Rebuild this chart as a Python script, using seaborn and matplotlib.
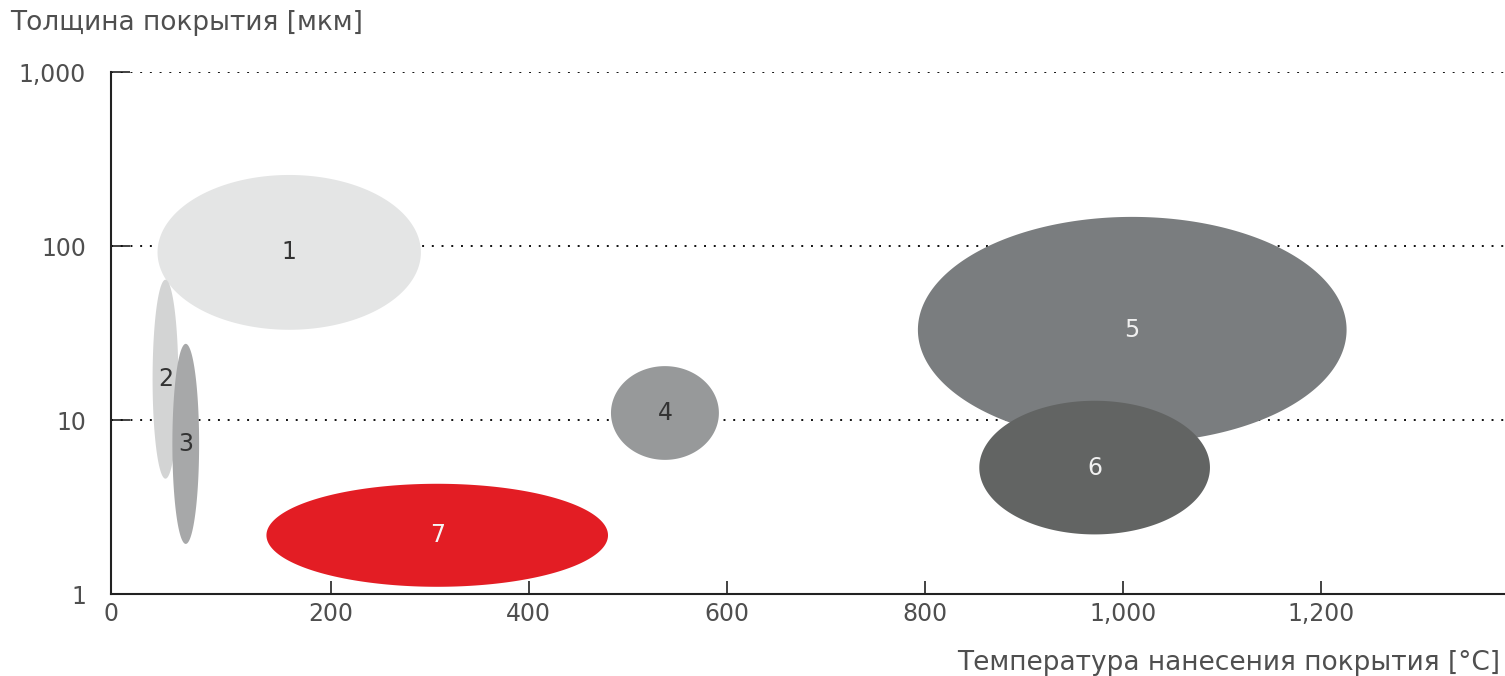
import numpy as np
import matplotlib
matplotlib.use("Agg")
import matplotlib.pyplot as plt
import seaborn as sns

# ---- data ----
labels = ["1", "2", "3", "4", "5", "6", "7"]
temp_min = [25, 20, 40, 483, 793, 855, 135]          # °C
temp_max = [291, 46, 67, 592, 1226, 1088, 480]       # °C
thick_min = [33, 4.6, 1.94, 5.9, 7.4, 2.2, 1.1]      # µm
thick_max = [256, 64, 27.4, 20.4, 147, 12.9, 4.3]    # µm
colors = ["#e4e5e5", "#d3d4d4", "#a7a8a9", "#97999a", "#7a7d7f", "#626463", "#e31d24"]
label_colors = ["#333333", "#333333", "#333333", "#333333", "#f0f0f0", "#f0f0f0", "#f5f5f5"]

xtick_values = [0, 200, 400, 600, 800, 1000, 1200]
xtick_labels = ["0", "200", "400", "600", "800", "1,000", "1,200"]
ytick_values = [1, 10, 100, 1000]
ytick_labels = ["1", "10", "100", "1,000"]

title = "Толщина покрытия [мкм]"
xlabel = "Температура нанесения покрытия [°C]"

# ---- style ----
sns.set_theme(style="white")
plt.rcParams["font.family"] = ["DejaVu Sans"]
text_color = "#4f4f4f"
fs = 17

fig = plt.figure(figsize=(15.05, 6.76), dpi=100)
ax = fig.add_axes([111 / 1505, 1 - 594 / 676, 1 - 111 / 1505, (594 - 72) / 676])

x_left = -22
ax.set_xlim(x_left, 1386)
ax.set_yscale("log")
ax.set_ylim(1, 1000)

# dotted gridlines
for yv in ytick_values[1:]:
    ax.axhline(yv, color="#111111", lw=1.4, linestyle=(0, (1, 4)), zorder=1)

# ellipses (in temperature / log-thickness space)
t = np.linspace(0, 2 * np.pi, 300)
for i, lab in enumerate(labels):
    xc = (temp_min[i] + temp_max[i]) / 2
    a = (temp_max[i] - temp_min[i]) / 2
    lmin, lmax = np.log10(thick_min[i]), np.log10(thick_max[i])
    lc = (lmin + lmax) / 2
    b = (lmax - lmin) / 2
    xs = xc + a * np.cos(t)
    ys = 10 ** (lc + b * np.sin(t))
    ax.fill(xs, ys, color=colors[i], lw=0, zorder=2 + i)
    ax.text(xc, 10 ** lc, lab, ha="center", va="center", fontsize=fs,
            color=label_colors[i], zorder=20)

# ticks
xt = [x_left] + xtick_values[1:]
ax.set_xticks(xt)
ax.set_xticklabels(xtick_labels)
ax.set_yticks(ytick_values)
ax.set_yticklabels(ytick_labels)
ax.yaxis.set_minor_locator(matplotlib.ticker.NullLocator())
ax.tick_params(axis="x", direction="in", length=9.5, width=1.2, color="#222222",
               labelsize=fs, labelcolor=text_color, pad=6, bottom=True)
ax.tick_params(axis="y", direction="in", length=13.5, width=1.2, color="#222222",
               labelsize=fs, labelcolor=text_color, pad=18, left=True)

sns.despine(ax=ax, top=True, right=True)
for s in ["left", "bottom"]:
    ax.spines[s].set_color("#222222")
    ax.spines[s].set_linewidth(1.5)
    ax.spines[s].set_zorder(30)
ax.grid(False)

fig.text(10 / 1505, 1 - 23 / 676, title, ha="left", va="center", fontsize=19, color=text_color)
fig.text(1500 / 1505, 1 - 663 / 676, xlabel, ha="right", va="center", fontsize=19, color=text_color)

fig.savefig("out.png", dpi=100)
